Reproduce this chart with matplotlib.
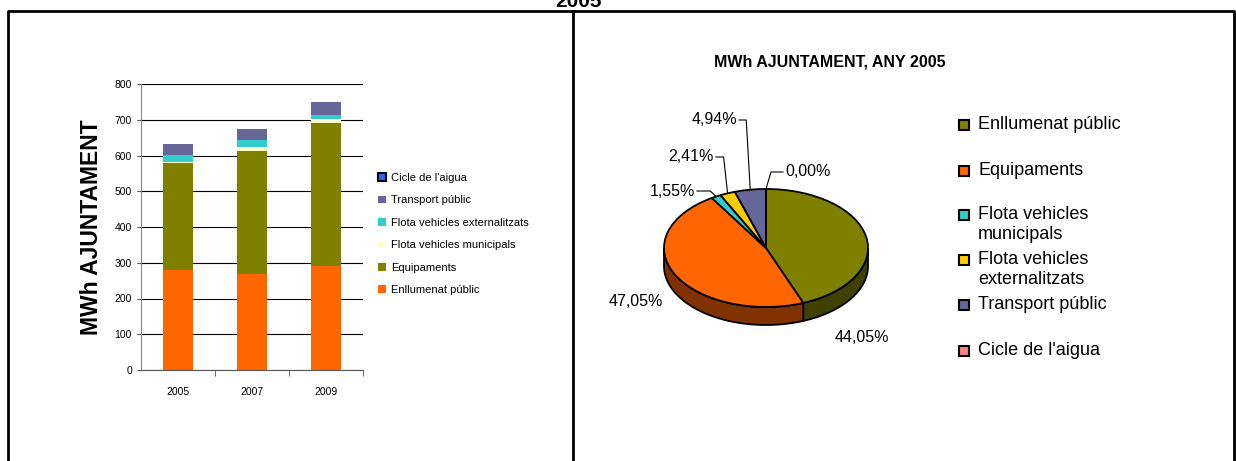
import matplotlib.pyplot as plt
import numpy as np
from matplotlib.patches import Rectangle, Polygon

plt.rcParams['font.family'] = ['Liberation Sans', 'DejaVu Sans']

# Bar chart data (MWh per year, stacked bottom -> top)
years = ['2005', '2007', '2009']
enllumenat = [280, 269, 291]
equipaments = [300, 344, 401]
flota_municipals = [3, 11, 10]
flota_externalitzats = [19, 20, 12]
transport = [31, 31, 37]
cicle = [0, 0, 0]

bar_labels = ['Enllumenat públic', 'Equipaments', 'Flota vehicles municipals',
              'Flota vehicles externalitzats', 'Transport públic', 'Cicle de l\'aigua']
bar_colors = ['#ff6600', '#808000', '#ffffcc', '#33cccc', '#666699', '#3366ff']

# Pie chart data (share of 2005, %)
pie_labels = ['Enllumenat públic', 'Equipaments', 'Flota vehicles\nmunicipals',
              'Flota vehicles\nexternalitzats', 'Transport públic', 'Cicle de l\'aigua']
pie_values = [44.05, 47.05, 1.55, 2.41, 4.94, 0.00]
pie_colors = ['#808000', '#ff6600', '#33cccc', '#ffcc00', '#666699', '#ff8080']
side_colors = ['#404000', '#803300', '#1a6666', '#806600', '#33334d', '#804040']

W, H = 1236, 461
fig = plt.figure(figsize=(W / 100, H / 100), dpi=100)


def px_axes(x0, y0, x1, y1):
    return [x0 / W, 1 - y1 / H, (x1 - x0) / W, (y1 - y0) / H]


# ---- stacked bars ----
ax = fig.add_axes(px_axes(141, 84, 363, 370))
x = np.arange(len(years))
series = [enllumenat, equipaments, flota_municipals, flota_externalitzats, transport, cicle]
bottom = np.zeros(len(years))
handles = []
for vals, lab, col in zip(series, bar_labels, bar_colors):
    b = ax.bar(x, vals, 0.41, bottom=bottom, color=col, label=lab, zorder=3)
    handles.append(b)
    bottom += np.array(vals)
ax.set_xlim(-0.5, 2.5)
ax.set_ylim(0, 800)
ax.set_yticks(np.arange(0, 801, 100))
ax.set_xticks(x)
ax.set_xticklabels(years)
ax.set_xticks([0.5, 1.5, 2.5], minor=True)
ax.tick_params(axis='x', which='major', length=0, pad=12, labelsize=7.5)
ax.tick_params(axis='x', which='minor', length=4, direction='out', color='#555555')
ax.tick_params(axis='y', length=3, labelsize=7.5, color='#555555')
ax.grid(axis='y', color='black', linewidth=0.8, zorder=0)
for s in ['top', 'right']:
    ax.spines[s].set_visible(False)
ax.spines['left'].set_color('#888888')
ax.spines['bottom'].set_color('#555555')
ax.set_ylabel('MWh AJUNTAMENT', fontsize=16.5, fontweight='bold', labelpad=8)

leg = fig.legend(handles[::-1], bar_labels[::-1], loc='upper left',
                 bbox_to_anchor=(368 / W, 1 - 163 / H), frameon=False,
                 fontsize=8, handlelength=0.7, handleheight=0.7,
                 handletextpad=0.5, labelspacing=1.12)
leg.legend_handles[0].set_edgecolor('black')
leg.legend_handles[0].set_linewidth(1.5)

# ---- 3D-looking pie ----
cx, cy, rx, ry, depth = 766, 248, 102, 59, 18
pax = fig.add_axes(px_axes(586, 98, 946, 398))
pax.pie(pie_values, colors=pie_colors, startangle=90, counterclock=False,
        wedgeprops=dict(edgecolor='black', linewidth=1.3), radius=1)
pax.set_aspect('auto')
pax.set_xlim(-180 / rx, 180 / rx)
pax.set_ylim(-150 / ry, 150 / ry)
d = depth / ry

# side walls for the front half of the pie
ends = 90 - np.cumsum(pie_values) / 100 * 360
starts = np.concatenate([[90], ends[:-1]])
for a0, a1, col in zip(starts, ends, side_colors):
    # wedge runs clockwise from a0 down to a1; front half is angles in [-180, 0]
    lo, hi = max(a1, -180), min(a0, 0)
    if hi <= lo:
        continue
    t = np.radians(np.linspace(hi, lo, 60))
    top = np.column_stack([np.cos(t), np.sin(t)])
    bot = np.column_stack([np.cos(t[::-1]), np.sin(t[::-1]) - d])
    pax.add_patch(Polygon(np.vstack([top, bot]), closed=True, facecolor=col,
                          edgecolor='black', linewidth=1.3, zorder=0))


def px2d(px, py):
    return (px - cx) / rx, (cy - py) / ry


mids = 90 - (np.cumsum(pie_values) - np.array(pie_values) / 2) / 100 * 360
pct = ['{:.2f}%'.format(v).replace('.', ',') for v in pie_values]

# labels with leader lines: (text x, text y, ha, elbow dx in px)
label_pos = {
    4: (737, 120, 'right', -4),
    3: (714, 157, 'right', -4),
    2: (695, 191, 'right', -6),
    5: (785, 172, 'left', 5),
}
for i, (tx, ty, ha, dx) in label_pos.items():
    ang = np.radians(mids[i])
    axp, ayp = cx + rx * np.cos(ang), cy - ry * np.sin(ang)
    gap = 2 if ha == 'right' else -2
    pts = [px2d(tx + gap, ty), px2d(axp + dx, ty), px2d(axp, ayp)]
    pax.plot([p[0] for p in pts], [p[1] for p in pts], color='black',
             linewidth=0.8, clip_on=False)
    pax.text(*px2d(tx, ty), pct[i], ha=ha, va='center', fontsize=11.5)
pax.text(*px2d(636, 302), pct[1], ha='center', va='center', fontsize=11.5)
pax.text(*px2d(862, 338), pct[0], ha='center', va='center', fontsize=11.5)

# ---- overlay in pixel coordinates: frame, titles, pie legend ----
ov = fig.add_axes([0, 0, 1, 1], facecolor='none')
ov.set_xlim(0, W)
ov.set_ylim(H, 0)
ov.axis('off')
ov.plot([8, 8, 1234, 1234], [H + 5, 11, 11, H + 5], color='black', linewidth=2)
ov.plot([573, 573], [11, H + 5], color='black', linewidth=2)
ov.text(578, 7, '2005', ha='center', va='baseline', fontsize=15, fontweight='bold')
ov.text(830, 62, 'MWh AJUNTAMENT, ANY 2005', ha='center', va='center',
        fontsize=11.5, fontweight='bold')

legend_y = [125, 171, 226, 271, 305, 351]
for lab, col, ly in zip(pie_labels, pie_colors, legend_y):
    nl = lab.count('\n')
    first = ly - nl * 11
    ov.add_patch(Rectangle((959, first - 5), 10, 10, facecolor=col,
                           edgecolor='black', linewidth=1.5))
    ov.text(978, first - 9, lab, ha='left', va='top', fontsize=13,
            linespacing=1.2)

fig.savefig('out.png', dpi=100)
